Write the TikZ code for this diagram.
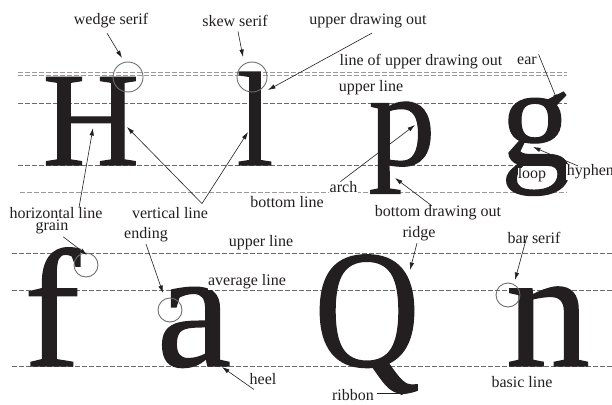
\documentclass[tikz,border=0pt]{standalone}
\usepackage{fontspec}
\setmainfont{Liberation Serif}
\newfontfamily\glyphfont[FakeBold=0.8]{Liberation Serif}
\usetikzlibrary{arrows.meta}
\definecolor{ink}{HTML}{231F20}
\definecolor{guidedark}{HTML}{6A6A6A}
\definecolor{guidelight}{HTML}{9A9A9A}
\definecolor{ringcol}{HTML}{6E6E6E}
\begin{document}
\begin{tikzpicture}[x=1pt,y=-1pt,
  lbl/.style={font=\fontsize{16}{16}\selectfont, inner sep=0.6pt, fill=white, text=ink},
  glyphT/.style={font=\glyphfont\fontsize{134}{134}\selectfont, text=ink, inner sep=0pt, anchor=base},
  glyphB/.style={font=\glyphfont\fontsize{168}{168}\selectfont, text=ink, inner sep=0pt, anchor=base},
  guide/.style={draw=guidedark, dash pattern=on 4.5pt off 2.5pt, line width=0.6pt},
  guidelt/.style={draw=guidelight, dash pattern=on 4.5pt off 2.5pt, line width=0.6pt},
  ringbig/.style={draw=ringcol, line width=0.9pt, circle, minimum size=30pt, inner sep=0pt},
  ringsmall/.style={draw=ringcol, line width=0.9pt, circle, minimum size=24pt, inner sep=0pt},
  arr/.style={-{Latex[length=7.5pt,width=4.5pt]}, line width=0.6pt, draw=ink}
]
\useasboundingbox (0,0) rectangle (612,404);
% guide lines
\draw[guidelt] (18,72) -- (567,72);
\draw[guidelt] (18,75.5) -- (567,75.5);
\draw[guide] (18,103) -- (567,103);
\draw[guide] (18,165) -- (567,165);
\draw[guidelt] (20,192) -- (567,192);
\draw[guide] (12,253) -- (612,253);
\draw[guide] (12,290) -- (612,290);
\draw[guide] (12,366) -- (612,366);

% glyphs, top row
\node[glyphT] (gH) at (91,165) {H};
\node[glyphT] (gl) at (255,165) {l};
\node[glyphT] (gp) at (402,165) {p};
\node[glyphT] (gg) at (536,165) {\scalebox{1.06}{g}};
% glyphs, bottom row
\node[glyphB] (gf) at (52,366) {f};
\node[glyphB] (ga) at (194,366) {a};
\node[glyphB] (gQ) at (367,366) {\scalebox{0.87}[1]{Q}};
\node[glyphB] (gn) at (548,366) {n};

% rings
\node[ringbig] (rH) at (128,77) {};
\node[ringbig] (rl) at (252,77) {};
\node[ringsmall] (rf) at (86,265) {};
\node[ringsmall] (ra) at (170,310) {};
\node[ringsmall] (rn) at (508,295) {};

% labels
\node[lbl] (wedge) at (111,21) {wedge serif};
\node[lbl] (skew) at (235,21) {skew serif};
\node[lbl] (udo) at (368,21) {upper drawing out};
\node[lbl] (ludo) at (421,62) {line of upper drawing out};
\node[lbl] (ear) at (527,61) {ear};
\node[lbl] (ulT) at (371,88) {upper line};
\node[lbl, inner sep=0.2pt] (loop) at (532,175) {loop};
\node[lbl, anchor=west] (hyph) at (566,172) {hyphen};
\node[lbl] (arch) at (343.5,187) {arch};
\node[lbl] (bl) at (287,202) {bottom line};
\node[lbl] (bdo) at (438,213) {bottom drawing out};
\node[lbl] (hl) at (56,213) {horizontal line};
\node[lbl] (vl) at (170,213) {vertical line};
\node[lbl] (grain) at (52,227) {grain};
\node[lbl] (ending) at (146,235) {ending};
\node[lbl] (ulB) at (261,243) {upper line};
\node[lbl] (avg) at (247,282) {average line};
\node[lbl] (heel) at (263,379) {heel};
\node[lbl] (ridge) at (419,234) {ridge};
\node[lbl] (bar) at (534,238) {bar serif};
\node[lbl] (basic) at (522,382) {basic line};
\node[lbl] (ribbon) at (353,395) {ribbon};

% arrow targets
\coordinate (tWedge) at (122,58);
\coordinate (tSkew) at (243,57);
\coordinate (tUdo) at (268,90);
\coordinate (tEar) at (558,102);
\coordinate (tArch) at (415,125);
\coordinate (tHyph) at (533,147);
\coordinate (tBdo) at (395,178);
\coordinate (tHl) at (93,128);
\coordinate (tVlH) at (127,127);
\coordinate (tVll) at (248,132);
\coordinate (tGrain) at (87,255);
\coordinate (tEnding) at (163,293);
\coordinate (tHeel) at (222,367);
\coordinate (tRidge) at (410,270);
\coordinate (tBar) at (515,280);
\coordinate (tRibbon) at (408,393);

% arrows
\draw[arr] ([xshift=-4pt,yshift=-4pt]wedge.south) -- (tWedge);
\draw[arr] ([xshift=3pt,yshift=-4pt]skew.south) -- (tSkew);
\draw[arr] ([xshift=4pt,yshift=-4pt]udo.south) -- (tUdo);
\draw[arr] ([xshift=1pt,yshift=2pt]ear.north east) -- (tEar);
\draw[arr] ([xshift=-3pt,yshift=-1pt]arch.north) -- (tArch);
\draw[arr] ([xshift=12pt,yshift=-2pt]hyph.north west) -- (tHyph);
\draw[arr] ([xshift=-6pt,yshift=-1pt]bdo.north) -- (tBdo);
\draw[arr] ([xshift=23pt,yshift=-1pt]hl.north) -- (tHl);
\draw[arr] ([xshift=32pt,yshift=3pt]vl.north) -- (tVlH);
\draw[arr] ([xshift=32pt,yshift=3pt]vl.north) -- (tVll);
\draw[arr] ([xshift=-6pt,yshift=-2pt]grain.south east) -- (tGrain);
\draw[arr] ([yshift=-1pt]ending.south) -- (tEnding);
\draw[arr] ([xshift=5pt,yshift=-4pt]heel.south west) -- (tHeel);
\draw[arr] ([xshift=-2pt,yshift=-1pt]ridge.south) -- (tRidge);
\draw[arr] ([xshift=-7pt,yshift=2pt]bar.center) -- (tBar);
\draw[arr] ([xshift=2pt,yshift=2pt]ribbon.east) -- (tRibbon);
\end{tikzpicture}
\end{document}
